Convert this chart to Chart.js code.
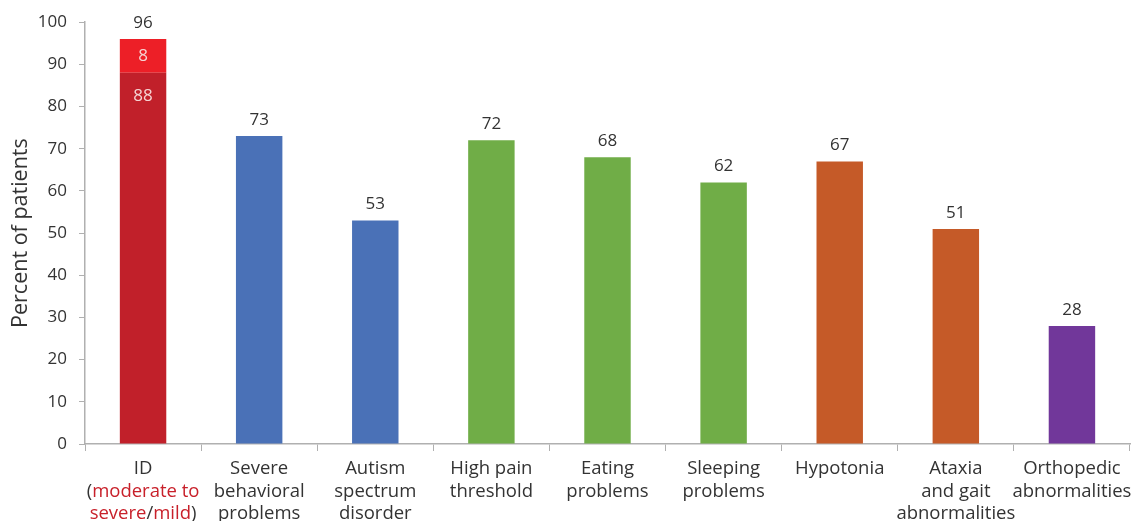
<!DOCTYPE html>
<html>
<head>
<meta charset="utf-8">
<script src="https://cdn.jsdelivr.net/npm/chart.js@4"></script>
<style>
    html, body { margin: 0; padding: 0; background: #fff; overflow: hidden; }
    #wrap { width: 1133px; height: 521px; }
</style>
</head>
<body>
<div id="wrap"><canvas id="chart"></canvas></div>
<script>
// text in {} is drawn red
const categories = [
    ["ID", "({moderate to}", "{severe}/{mild})"],
    ["Severe", "behavioral", "problems"],
    ["Autism", "spectrum", "disorder"],
    ["High pain", "threshold"],
    ["Eating", "problems"],
    ["Sleeping", "problems"],
    ["Hypotonia"],
    ["Ataxia", "and gait", "abnormalities"],
    ["Orthopedic", "abnormalities"]
]
const mainValues = [88, 73, 53, 72, 68, 62, 67, 51, 28]
const extraValues = [8, 0, 0, 0, 0, 0, 0, 0, 0]
const totals = [96, 73, 53, 72, 68, 62, 67, 51, 28]
const barColors = ["#c1202a", "#4a71b7", "#4a71b7", "#70ad47", "#70ad47", "#70ad47", "#c55a28", "#c55a28", "#71379a"]
const extraColor = "#ed1f27"
const yTitle = "Percent of patients"

const FONT = "'Open Sans', 'Noto Sans', sans-serif"
const TEXT = "#333333"
const RED = "#c8202a"
const AXIS = "#b0b0b0"

// value labels on and above the bars
const valueLabels = {
    id: "valueLabels",
    afterDatasetsDraw(chart) {
        const ctx = chart.ctx
        const base = chart.getDatasetMeta(0).data
        const extra = chart.getDatasetMeta(1).data
        ctx.save()
        ctx.font = "17px " + FONT
        ctx.textAlign = "center"
        ctx.textBaseline = "middle"
        totals.forEach((t, i) => {
            const top = extraValues[i] > 0 ? extra[i] : base[i]
            ctx.fillStyle = TEXT
            ctx.fillText(String(t), top.x, top.y - 16)
            if (extraValues[i] > 0) {
                ctx.fillStyle = "#f6d4d4"
                ctx.fillText(String(mainValues[i]), base[i].x, base[i].y + 23)
                ctx.fillText(String(extraValues[i]), extra[i].x, (extra[i].y + extra[i].base) / 2)
            }
        })
        ctx.restore()
    }
}

// category labels with red parts
const xLabels = {
    id: "xLabels",
    afterDraw(chart) {
        const ctx = chart.ctx
        const xs = chart.scales.x
        const y0 = chart.chartArea.bottom + 25
        ctx.save()
        ctx.font = "18.5px " + FONT
        ctx.textBaseline = "middle"
        ctx.textAlign = "left"
        categories.forEach((lines, i) => {
            const cx = xs.getPixelForValue(i)
            lines.forEach((line, j) => {
                const parts = line.split(/(\{[^}]*\})/).filter(p => p.length)
                const segs = parts.map(p => p[0] === "{" ? [p.slice(1, -1), RED] : [p, TEXT])
                const w = segs.reduce((s, sg) => s + ctx.measureText(sg[0]).width, 0)
                let x = cx - w / 2
                segs.forEach(sg => {
                    ctx.fillStyle = sg[1]
                    ctx.fillText(sg[0], x, y0 + j * 22.5)
                    x += ctx.measureText(sg[0]).width
                })
            })
        })
        ctx.restore()
    }
}

new Chart(document.getElementById("chart"), {
    type: "bar",
    data: {
        labels: categories.map(c => c.join(" ").replace(/[{}]/g, "")),
        datasets: [{
            data: mainValues,
            backgroundColor: barColors,
            barPercentage: 0.4,
            categoryPercentage: 1
        }, {
            data: extraValues,
            backgroundColor: extraColor,
            barPercentage: 0.4,
            categoryPercentage: 1
        }]
    },
    options: {
        responsive: true,
        maintainAspectRatio: false,
        animation: false,
        layout: { padding: { top: 21, right: 3, bottom: 0, left: 0 } },
        plugins: { legend: { display: false }, tooltip: { enabled: false } },
        scales: {
            x: {
                stacked: true,
                afterFit: s => { s.height = 77 },
                border: { color: AXIS, width: 1.5 },
                grid: { drawOnChartArea: false, color: AXIS, tickLength: 7, offset: true },
                ticks: { display: false }
            },
            y: {
                stacked: true,
                min: 0,
                max: 100,
                afterFit: s => { s.width = 85 },
                border: { color: AXIS, width: 1.5 },
                grid: { drawOnChartArea: false, color: AXIS, tickLength: 6 },
                ticks: { stepSize: 10, color: TEXT, font: { family: FONT, size: 17 }, padding: 12 },
                title: {
                    display: true,
                    text: yTitle,
                    color: TEXT,
                    font: { family: FONT, size: 21.5 },
                    padding: { top: 8, bottom: 0 }
                }
            }
        }
    },
    plugins: [valueLabels, xLabels]
})
</script>
</body>
</html>
